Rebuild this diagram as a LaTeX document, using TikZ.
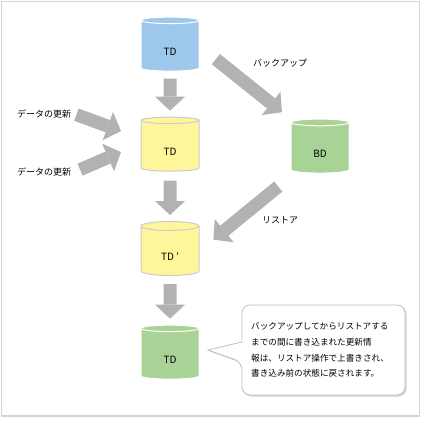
\documentclass[tikz,border=0pt]{standalone}
\usepackage{fontspec}
\setmainfont{Noto Sans CJK JP}
\usepackage{xcolor}
\usepackage{tikz}
\usetikzlibrary{positioning,shapes.geometric,arrows.meta,shadows}

\definecolor{tdblue}{HTML}{9DC8EC}
\definecolor{tdyellow}{HTML}{FFF59A}
\definecolor{tdgreen}{HTML}{A9D396}
\definecolor{arrowgray}{HTML}{B2B2B2}
\definecolor{framegray}{HTML}{D4D4D4}

\begin{document}
\begin{tikzpicture}[x=1pt,y=-1pt,
        db/.style={cylinder,shape border rotate=90,aspect=0.5,
            minimum width=58pt,minimum height=54pt,inner sep=0pt,
            text height=19pt,text depth=0pt,
            font=\fontsize{10}{12}\selectfont,line width=1pt},
        blk/.style={draw=arrowgray,line width=13pt,
            -{Triangle[width=30pt,length=14pt,line width=0pt]}},
        lbl/.style={font=\fontsize{9}{11}\selectfont}]

        % Frame
        \useasboundingbox (0,0) rectangle (425,421);
        \draw[framegray,line width=1.5pt] (1.5,1.5) rectangle (419.5,416);

        % Databases
        \node[db,fill=tdblue,draw=white] (tda) at (170,46) {TD};
        \node[db,fill=tdyellow,draw=black!20] (tdb) at (170,146) {TD};
        \node[db,fill=tdyellow,draw=black!20] (tdc) at (170,251) {TD ’};
        \node[db,fill=tdgreen,draw=white] (tdd) at (170,354) {TD};
        \node[db,fill=tdgreen,draw=white] (bd) at (320,148) {BD};

        % Update labels
        \node[lbl] (upd1) at (44,114) {データの更新};
        \node[lbl] (upd2) at (44,172) {データの更新};
        \coordinate (in1) at (121,131);
        \coordinate (in2) at (121,152);

        % Arrows
        \draw[blk,shorten <=7pt,shorten >=6pt] (tda) -- (tdb);
        \draw[blk,shorten <=9pt,shorten >=6pt] (tdb) -- (tdc);
        \draw[blk,shorten <=8pt,shorten >=6pt] (tdc) -- (tdd);
        \draw[blk,shorten <=2pt] (upd1.east) -- (in1);
        \draw[blk,shorten <=6pt] (upd2.east) -- (in2);
        \draw[blk,shorten <=21pt,shorten >=14pt] (tda.east) -- (bd.north west);
        \draw[blk,shorten <=23pt,shorten >=18pt] (bd.south west) -- (tdc.east);

        % Arrow labels
        \node[lbl] (bklbl) at (280,63) {バックアップ};
        \node[lbl] (rslbl) at (280,220) {リストア};

        % Callout
        \draw[draw=black!25,fill=white,line width=0.8pt,
            drop shadow={shadow xshift=1.5pt,shadow yshift=-1.5pt,opacity=0.35}]
            [rounded corners=8pt] (242,305) -- (405,305) -- (405,395)
            -- (242,395) -- (242,362) [sharp corners] -- (208,350)
            -- (242,342) [rounded corners=8pt] -- cycle;
        \node[anchor=west,align=left,inner sep=0pt,
            font=\fontsize{8.6}{15.7}\selectfont] (note) at (251,350)
            {バックアップしてからリストアする\\までの間に書き込まれた更新情\\報は、リストア操作で上書きされ、\\書き込み前の状態に戻されます。};

    \end{tikzpicture}
\end{document}
